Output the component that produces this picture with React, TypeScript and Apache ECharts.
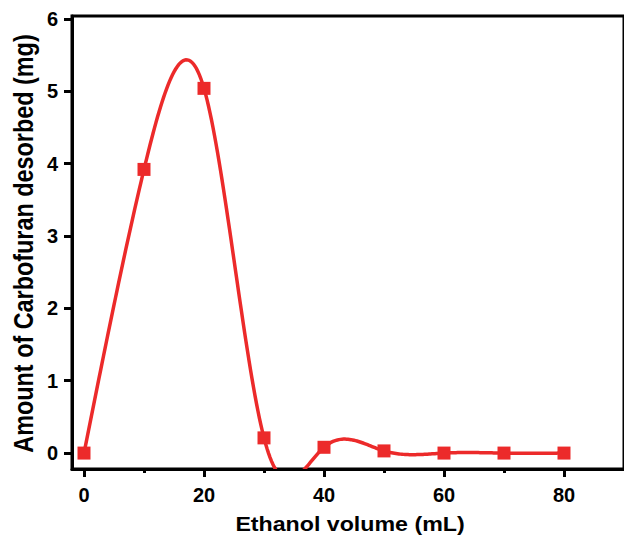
import React, { useEffect, useRef } from "react";
import * as echarts from "echarts";

const xValues = [0, 10, 20, 30, 40, 50, 60, 70, 80];
const yValues = [0, 3.92, 5.04, 0.21, 0.08, 0.03, 0.0, 0.0, 0.0];
const xMajorTicks = [0, 20, 40, 60, 80];
const xMinorTicks = [10, 30, 50, 70];
const yTicks = [0, 1, 2, 3, 4, 5, 6];
const xTitle = "Ethanol volume (mL)";
const yTitle = "Amount of Carbofuran desorbed (mg)";

// natural cubic spline second derivatives
function splineM(xs: number[], ys: number[]) {
  const n = xs.length;
  const h: number[] = [];
  for (let i = 0; i < n - 1; i++) h.push(xs[i + 1] - xs[i]);
  const a = new Array(n).fill(0), b = new Array(n).fill(1), c = new Array(n).fill(0), d = new Array(n).fill(0);
  for (let i = 1; i < n - 1; i++) {
    a[i] = h[i - 1];
    b[i] = 2 * (h[i - 1] + h[i]);
    c[i] = h[i];
    d[i] = 6 * ((ys[i + 1] - ys[i]) / h[i] - (ys[i] - ys[i - 1]) / h[i - 1]);
  }
  for (let i = 1; i < n; i++) {
    const w = a[i] / b[i - 1];
    b[i] -= w * c[i - 1];
    d[i] -= w * d[i - 1];
  }
  const M = new Array(n).fill(0);
  M[n - 1] = d[n - 1] / b[n - 1];
  for (let i = n - 2; i >= 0; i--) M[i] = (d[i] - c[i] * M[i + 1]) / b[i];
  return M;
}
const M = splineM(xValues, yValues);
function splineAt(i: number, x: number) {
  const x0 = xValues[i], x1 = xValues[i + 1];
  const h = x1 - x0;
  const A = (x1 - x) / h, B = (x - x0) / h;
  return A * yValues[i] + B * yValues[i + 1] + ((A * A * A - A) * M[i] + (B * B * B - B) * M[i + 1]) * h * h / 6;
}

const FONT = "'Liberation Sans', Arial, sans-serif";
const RED = "#ec2a2a";

export default function App() {
  const ref = useRef<HTMLDivElement>(null);
  useEffect(() => {
    if (!ref.current) return;
    const chart = echarts.init(ref.current, null, { renderer: "svg" });
    const pts = xValues.map((x, i) => [x, yValues[i]]);
    chart.setOption({
      animation: false,
      backgroundColor: "#ffffff",
      grid: {
        left: 72,
        top: 16,
        width: 557,
        height: 453,
        show: true,
        borderColor: "#000",
        borderWidth: 3,
      },
      graphic: [
        {
          type: "text",
          x: 350,
          y: 524,
          scaleX: 1.16,
          style: {
            text: xTitle,
            fontFamily: FONT,
            fontWeight: "bold",
            fontSize: 20,
            fill: "#000",
            align: "center",
            verticalAlign: "middle",
          },
        },
        {
          type: "text",
          x: 23,
          y: 243.5,
          rotation: Math.PI / 2,
          scaleY: 1.16,
          style: {
            text: yTitle,
            fontFamily: FONT,
            fontWeight: "bold",
            fontSize: 23.4,
            fill: "#000",
            align: "center",
            verticalAlign: "middle",
          },
        },
      ],
      xAxis: [
        {
          type: "value",
          min: -2,
          max: 90,
          position: "bottom",
          axisLine: { show: true, onZero: false, lineStyle: { color: "#000", width: 3 } },
          axisTick: { show: true, customValues: xMajorTicks, length: 8, lineStyle: { color: "#000", width: 3 } },
          axisLabel: { customValues: xMajorTicks, margin: 16, fontFamily: FONT, fontWeight: "bold", fontSize: 20, color: "#000" },
          splitLine: { show: false },
        },
        {
          type: "value",
          min: -2,
          max: 90,
          position: "bottom",
          axisLine: { show: false, onZero: false },
          axisTick: { show: true, customValues: xMinorTicks, length: 4, lineStyle: { color: "#000", width: 3 } },
          axisLabel: { show: false },
          splitLine: { show: false },
        },
      ],
      yAxis: {
        type: "value",
        min: -0.22,
        max: 6.04,
        axisLine: { show: true, onZero: false, lineStyle: { color: "#000", width: 3 } },
        axisTick: { show: true, customValues: yTicks, length: 8, lineStyle: { color: "#000", width: 3 } },
        axisLabel: { customValues: yTicks, margin: 14, fontFamily: FONT, fontWeight: "bold", fontSize: 20, color: "#000" },
        splitLine: { show: false },
      },
      series: [
        {
          type: "custom",
          clip: true,
          data: pts,
          z: 2,
          renderItem: (params: any, api: any) => {
            const i = params.dataIndex;
            if (i >= xValues.length - 1) return null;
            const points: number[][] = [];
            const steps = 40;
            for (let k = 0; k <= steps; k++) {
              const x = xValues[i] + ((xValues[i + 1] - xValues[i]) * k) / steps;
              points.push(api.coord([x, splineAt(i, x)]));
            }
            return {
              type: "polyline",
              shape: { points },
              style: { stroke: RED, lineWidth: 3.5, fill: null },
            };
          },
        },
        {
          type: "scatter",
          data: pts,
          symbol: "rect",
          symbolSize: 13,
          itemStyle: { color: RED, opacity: 1 },
          z: 3,
        },
      ],
    });
    return () => chart.dispose();
  }, []);
  return <div ref={ref} style={{ position: "fixed", left: 0, top: 0, width: 624, height: 537 }} />;
}
